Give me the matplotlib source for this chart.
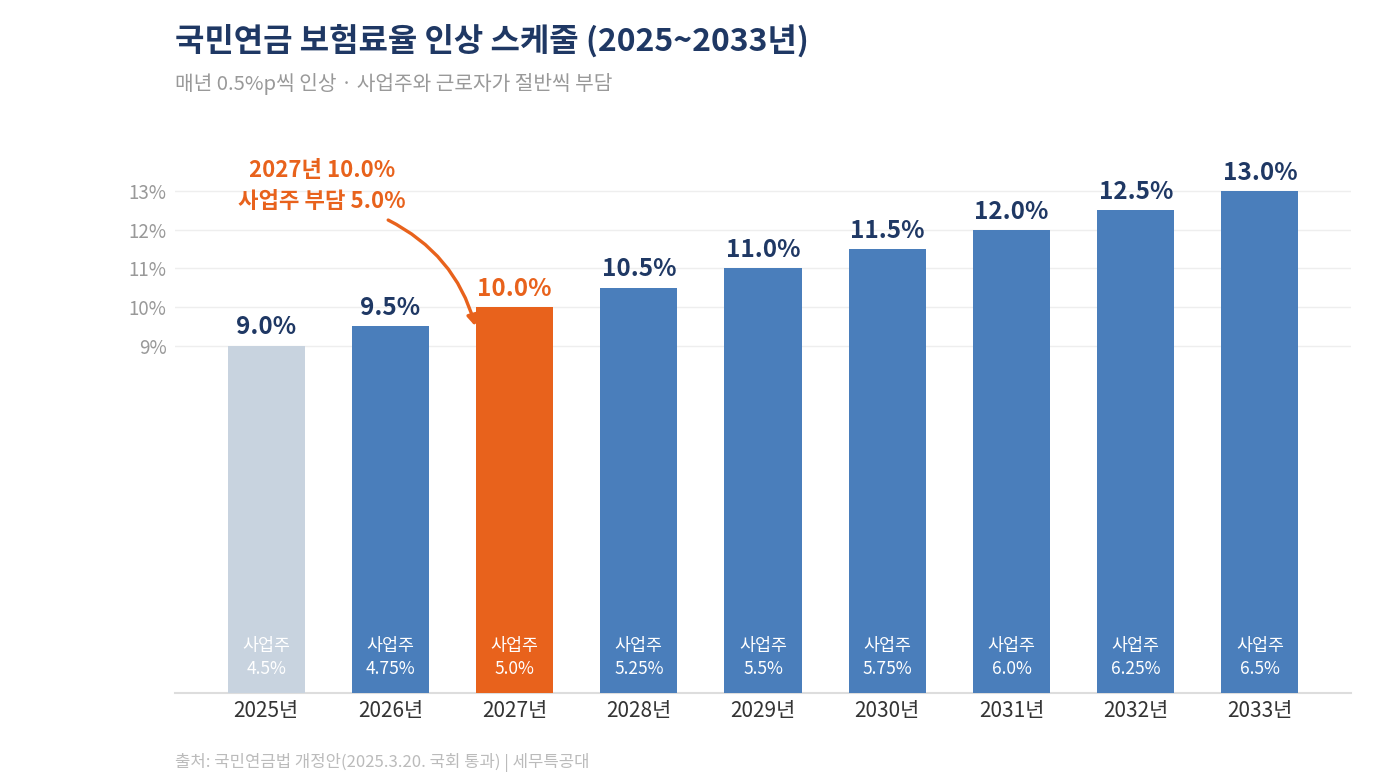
import numpy as np
import matplotlib.pyplot as plt

plt.rcParams['font.family'] = ['Noto Sans CJK KR', 'DejaVu Sans']

# data
years = ['2025년', '2026년', '2027년', '2028년', '2029년', '2030년', '2031년', '2032년', '2033년']
total_rate = [9.0, 9.5, 10.0, 10.5, 11.0, 11.5, 12.0, 12.5, 13.0]
employer_rate = ['4.5%', '4.75%', '5.0%', '5.25%', '5.5%', '5.75%', '6.0%', '6.25%', '6.5%']
y_ticks = [9, 10, 11, 12, 13]

navy = '#1f3864'
blue = '#4a7ebb'
gray_bar = '#c8d3df'
orange = '#e8621c'
highlight = 2  # 2027

fig = plt.figure(figsize=(14, 7.84), dpi=100)
ax = fig.add_axes([0.125, 0.1161, 0.84, 0.6894])

x = np.arange(len(years))
colors = [blue] * len(years)
colors[0] = gray_bar
colors[highlight] = orange
ax.bar(x, total_rate, width=0.62, color=colors, zorder=3)

ax.set_xlim(-0.733, len(years) - 1 + 0.733)
ax.set_ylim(0, 14)
ax.set_yticks(y_ticks)
ax.set_yticklabels([f'{t}%' for t in y_ticks], color='#999999', fontsize=13.5)
ax.set_xticks(x)
ax.set_xticklabels(years, fontsize=15, color='#333333')
ax.tick_params(axis='both', length=0)
ax.tick_params(axis='x', pad=5)
ax.tick_params(axis='y', pad=6)
ax.grid(axis='y', color='#eeeeee', linewidth=1, zorder=0)
for s in ['top', 'right', 'left']:
    ax.spines[s].set_visible(False)
ax.spines['bottom'].set_color('#dddddd')
ax.spines['bottom'].set_linewidth(1.5)

# value labels on top
for i, v in enumerate(total_rate):
    c = orange if i == highlight else navy
    ax.text(i, v + 0.16, f'{v:.1f}%', ha='center', va='bottom', fontsize=17.5,
            fontweight='bold', color=c)
    # employer share inside bar
    ax.text(i, 0.91, '사업주\n' + employer_rate[i], ha='center', va='center',
            fontsize=12.5, color='white', linespacing=1.35)

# annotation
ax.text(0.45, 13.14, '2027년 10.0%\n사업주 부담 5.0%', ha='center', va='center',
        fontsize=16, fontweight='bold', color=orange, linespacing=1.45)
ax.annotate('', xy=(1.684, 9.5), xytext=(0.983, 12.25),
            arrowprops=dict(arrowstyle='-|>', color=orange, lw=2.4,
                            mutation_scale=15, shrinkA=0, shrinkB=0,
                            connectionstyle='arc3,rad=-0.22'))

fig.text(0.125, 0.948, '국민연금 보험료율 인상 스케줄 (2025~2033년)', fontsize=23,
         fontweight='bold', color=navy, ha='left', va='center')
fig.text(0.125, 0.893, '매년 0.5%p씩 인상 · 사업주와 근로자가 절반씩 부담', fontsize=14.6,
         color='#999999', ha='left', va='center')
fig.text(0.125, 0.028, '출처: 국민연금법 개정안(2025.3.20. 국회 통과) | 세무특공대', fontsize=12,
         color='#bbbbbb', ha='left', va='center')

fig.savefig('out.png', dpi=100)
